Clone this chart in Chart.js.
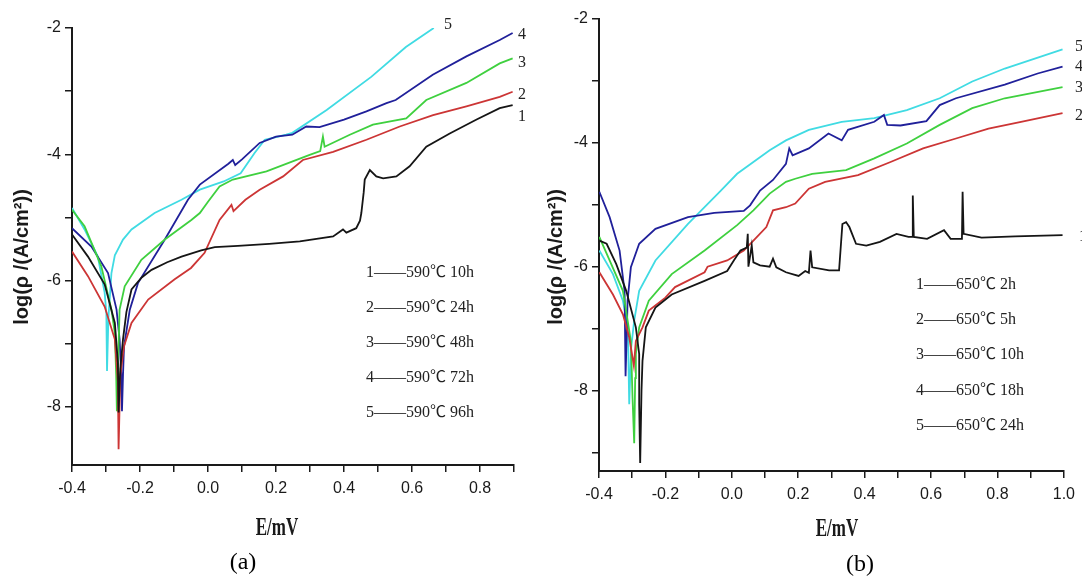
<!DOCTYPE html>
<html lang="en">
<head>
<meta charset="UTF-8">
<title>Polarization curves</title>
<script src="https://cdn.jsdelivr.net/npm/chart.js"></script>
<style>
  body { margin: 0; background: #fff; }
  #wrap { position: relative; width: 1082px; height: 578px; overflow: hidden; }
  canvas { position: absolute; top: 0; }
  #chartA { left: 0; }
  #chartB { left: 541px; }
</style>
</head>
<body>
<div id="wrap">
  <canvas id="chartA" width="541" height="578"></canvas>
  <canvas id="chartB" width="541" height="578"></canvas>
</div>
<script>
// curve colours, 1..5
const colors = ['#151515', '#cc3535', '#3fd03f', '#20209a', '#40dbe3']

// ---- panel (a): 590 C ----
const a1E   = [-0.40,-0.353,-0.304,-0.274,-0.265,-0.263,-0.258,-0.25,-0.24,-0.225,-0.195,-0.166,-0.12,-0.078,-0.02,0.02,0.088,0.18,0.27,0.368,0.397,0.407,0.436,0.447,0.451,0.458,0.461,0.476,0.495,0.515,0.554,0.593,0.642,0.711,0.79,0.858,0.896]
const a1Log = [-5.27,-5.62,-6.06,-6.67,-7.3,-8.09,-7.4,-6.93,-6.5,-6.14,-5.95,-5.83,-5.71,-5.62,-5.52,-5.47,-5.45,-5.42,-5.38,-5.30,-5.19,-5.24,-5.17,-5.05,-4.93,-4.6,-4.40,-4.25,-4.35,-4.38,-4.35,-4.19,-3.88,-3.67,-3.45,-3.27,-3.22]

const a2E   = [-0.40,-0.353,-0.304,-0.274,-0.265,-0.263,-0.258,-0.247,-0.225,-0.176,-0.098,-0.05,-0.01,0.034,0.069,0.075,0.11,0.152,0.221,0.279,0.368,0.466,0.564,0.662,0.76,0.858,0.896]
const a2Log = [-5.54,-5.93,-6.41,-6.93,-7.6,-8.67,-7.5,-7.04,-6.67,-6.30,-5.98,-5.8,-5.56,-5.04,-4.80,-4.9,-4.72,-4.56,-4.35,-4.09,-3.96,-3.77,-3.56,-3.38,-3.24,-3.09,-3.01]

const a3E   = [-0.40,-0.363,-0.314,-0.284,-0.274,-0.27,-0.268,-0.264,-0.26,-0.245,-0.196,-0.127,-0.049,-0.024,0.0,0.034,0.073,0.172,0.299,0.33,0.338,0.343,0.417,0.485,0.583,0.642,0.76,0.858,0.896]
const a3Log = [-4.88,-5.14,-5.77,-6.46,-6.83,-7.5,-8.07,-7.2,-6.46,-6.09,-5.67,-5.35,-5.04,-4.93,-4.75,-4.51,-4.40,-4.27,-4.01,-3.95,-3.72,-3.88,-3.69,-3.53,-3.43,-3.14,-2.87,-2.56,-2.48]

const a4E   = [-0.40,-0.343,-0.294,-0.269,-0.26,-0.255,-0.253,-0.25,-0.247,-0.23,-0.206,-0.127,-0.059,-0.024,0.06,0.073,0.08,0.1,0.152,0.2,0.248,0.289,0.328,0.40,0.466,0.525,0.552,0.661,0.76,0.858,0.896]
const a4Log = [-5.17,-5.46,-5.88,-6.46,-6.93,-7.5,-8.07,-7.5,-7.04,-6.46,-6.04,-5.35,-4.72,-4.48,-4.15,-4.09,-4.17,-4.08,-3.82,-3.72,-3.69,-3.56,-3.57,-3.45,-3.32,-3.19,-3.14,-2.74,-2.45,-2.19,-2.08]

const a5E   = [-0.40,-0.363,-0.324,-0.304,-0.299,-0.297,-0.293,-0.284,-0.274,-0.25,-0.225,-0.157,-0.078,-0.024,0.046,0.096,0.137,0.167,0.23,0.248,0.349,0.481,0.582,0.664]
const a5Log = [-4.85,-5.19,-5.62,-6.19,-6.51,-7.43,-6.6,-5.88,-5.6,-5.35,-5.19,-4.93,-4.72,-4.56,-4.43,-4.30,-3.98,-3.77,-3.69,-3.66,-3.30,-2.77,-2.30,-2.0]

const aNames  = ['1——590℃ 10h', '2——590℃ 24h', '3——590℃ 48h', '4——590℃ 72h', '5——590℃ 96h']
const aTicksX = [-0.4,-0.3,-0.2,-0.1,0,0.1,0.2,0.3,0.4,0.5,0.6,0.7,0.8,0.9]
const aTicksY = [-2,-3,-4,-5,-6,-7,-8]

// ---- panel (b): 650 C ----
const b1E   = [-0.399,-0.377,-0.348,-0.318,-0.289,-0.279,-0.279,-0.276,-0.272,-0.269,-0.259,-0.23,-0.181,-0.082,-0.014,0.006,0.026,0.045,0.048,0.05,0.06,0.065,0.085,0.114,0.124,0.134,0.163,0.201,0.221,0.232,0.237,0.242,0.293,0.323,0.333,0.344,0.354,0.374,0.405,0.446,0.496,0.532,0.543,0.545,0.548,0.588,0.639,0.659,0.693,0.695,0.698,0.752,0.853,0.996]
const b1Log = [-5.58,-5.63,-5.96,-6.39,-6.98,-7.41,-8.22,-9.17,-8.0,-7.52,-6.98,-6.66,-6.45,-6.23,-6.07,-5.90,-5.74,-5.69,-5.47,-6.0,-5.66,-5.93,-5.98,-6.0,-5.87,-6.01,-6.09,-6.15,-6.07,-6.1,-5.74,-6.01,-6.06,-6.06,-5.31,-5.28,-5.36,-5.63,-5.66,-5.60,-5.47,-5.52,-5.52,-4.85,-5.52,-5.55,-5.41,-5.55,-5.55,-4.79,-5.47,-5.53,-5.51,-5.49]

const b2E   = [-0.399,-0.358,-0.328,-0.309,-0.299,-0.295,-0.289,-0.269,-0.25,-0.2,-0.171,-0.082,-0.073,-0.014,0.036,0.065,0.104,0.124,0.163,0.191,0.232,0.281,0.38,0.478,0.576,0.675,0.773,0.871,0.996]
const b2Log = [-6.09,-6.45,-6.77,-7.14,-7.47,-7.6,-7.2,-6.98,-6.71,-6.50,-6.33,-6.09,-6.0,-5.90,-5.74,-5.58,-5.36,-5.09,-5.04,-4.98,-4.74,-4.63,-4.52,-4.31,-4.09,-3.93,-3.77,-3.66,-3.52]

const b3E   = [-0.399,-0.368,-0.328,-0.304,-0.299,-0.294,-0.291,-0.289,-0.279,-0.25,-0.181,-0.082,0.016,0.065,0.114,0.163,0.191,0.242,0.344,0.429,0.527,0.626,0.724,0.822,0.996]
const b3Log = [-5.52,-5.90,-6.39,-7.20,-8.12,-8.85,-7.8,-7.41,-6.98,-6.55,-6.12,-5.74,-5.33,-5.09,-4.82,-4.63,-4.58,-4.50,-4.44,-4.25,-4.01,-3.71,-3.44,-3.28,-3.10]

const b4E   = [-0.399,-0.368,-0.338,-0.323,-0.32,-0.316,-0.314,-0.304,-0.279,-0.23,-0.132,-0.053,0.036,0.055,0.085,0.124,0.163,0.173,0.183,0.232,0.291,0.331,0.35,0.429,0.458,0.468,0.508,0.586,0.626,0.675,0.822,0.921,0.996]
const b4Log = [-4.79,-5.20,-5.74,-6.39,-7.77,-7.0,-6.55,-6.01,-5.63,-5.39,-5.20,-5.13,-5.10,-5.01,-4.77,-4.60,-4.34,-4.09,-4.20,-4.09,-3.85,-3.96,-3.79,-3.66,-3.55,-3.71,-3.72,-3.65,-3.39,-3.28,-3.06,-2.88,-2.77]

const b5E   = [-0.399,-0.358,-0.328,-0.313,-0.309,-0.303,-0.294,-0.279,-0.23,-0.132,-0.033,0.016,0.114,0.163,0.232,0.331,0.429,0.527,0.626,0.724,0.822,0.996]
const b5Log = [-5.74,-6.12,-6.55,-6.98,-8.22,-7.3,-6.87,-6.39,-5.90,-5.31,-4.77,-4.50,-4.12,-3.96,-3.79,-3.66,-3.60,-3.47,-3.28,-3.01,-2.80,-2.49]

const bNames  = ['1——650℃ 2h', '2——650℃ 5h', '3——650℃ 10h', '4——650℃ 18h', '5——650℃ 24h']
const bTicksX = [-0.4,-0.3,-0.2,-0.1,0,0.1,0.2,0.3,0.4,0.5,0.6,0.7,0.8,0.9,1.0]
const bTicksY = [-2,-3,-4,-5,-6,-7,-8,-9]

const yTitle = 'log(ρ /(A/cm²))'
const xTitle = 'E/mV'

// draws titles, legend text and curve numbers
const textPlugin = {
  id: 'texts',
  afterDraw(chart, args, opts) {
    const ctx = chart.ctx
    ctx.save()
    ctx.fillStyle = '#1a1a1a'
    ctx.textBaseline = 'middle'

    // y title, rotated
    ctx.save()
    ctx.translate(opts.yTitle[0], opts.yTitle[1])
    ctx.rotate(-Math.PI / 2)
    ctx.textAlign = 'center'
    ctx.font = 'bold 20px "Liberation Sans", Arial, sans-serif'
    ctx.fillText(yTitle, 0, 0)
    ctx.restore()

    // x title, condensed bold
    ctx.save()
    ctx.translate(opts.xTitle[0], opts.xTitle[1])
    ctx.scale(0.68, 1)
    ctx.textAlign = 'center'
    ctx.font = 'bold 25px "Liberation Serif", serif'
    ctx.fillText(xTitle, 0, 0)
    ctx.restore()

    // panel letter
    ctx.textAlign = 'center'
    ctx.font = '24px "Liberation Serif", serif'
    ctx.fillStyle = '#000'
    ctx.fillText(opts.letter, opts.letterPos[0], opts.letterPos[1])

    // legend list
    ctx.textAlign = 'left'
    ctx.font = '16px "Liberation Serif", "Noto Sans CJK SC", serif'
    ctx.fillStyle = '#222'
    opts.names.forEach((n, i) => ctx.fillText(n, opts.legendX, opts.legendY[i]))

    // curve numbers at the right ends
    opts.tags.forEach((t, i) => ctx.fillText(String(i + 1), t[0], t[1]))
    ctx.restore()
  }
}

function makeChart(id, cfg) {
  const datasets = cfg.series.map((s, i) => ({
    label: cfg.names[i],
    data: s[0].map((e, k) => ({ x: e, y: s[1][k] })),
    borderColor: colors[i],
    borderWidth: 1.8,
    pointRadius: 0,
    tension: 0,
    fill: false
  }))

  const axisGrid = { display: true, drawOnChartArea: false, drawTicks: true, tickLength: 7, color: '#1a1a1a', lineWidth: 1.5 }
  const axisBorder = { display: true, color: '#1a1a1a', width: 2 }
  const tickFont = { family: '"Liberation Sans", Arial, sans-serif', size: 16 }

  return new Chart(document.getElementById(id), {
    type: 'line',
    data: { datasets },
    plugins: [textPlugin],
    options: {
      responsive: false,
      animation: false,
      events: [],
      layout: { autoPadding: false, padding: cfg.padding },
      plugins: {
        legend: { display: false },
        tooltip: { enabled: false },
        texts: cfg.texts
      },
      scales: {
        x: {
          type: 'linear',
          min: cfg.xTicks[0],
          max: cfg.xTicks[cfg.xTicks.length - 1],
          afterBuildTicks: sc => { sc.ticks = cfg.xTicks.map(v => ({ value: v })) },
          afterFit: sc => { sc.height = 30 },
          grid: axisGrid,
          border: axisBorder,
          ticks: {
            autoSkip: false, maxRotation: 0, padding: 7, color: '#1a1a1a', font: tickFont,
            callback: v => Math.round(v * 10) % 2 === 0 ? v.toFixed(1) : ''
          }
        },
        y: {
          type: 'linear',
          min: cfg.yMin,
          max: -2,
          afterBuildTicks: sc => { sc.ticks = cfg.yTicks.map(v => ({ value: v })) },
          afterFit: sc => { sc.width = cfg.yWidth },
          grid: axisGrid,
          border: axisBorder,
          ticks: {
            autoSkip: false, padding: 4, color: '#1a1a1a', font: tickFont,
            callback: v => v % 2 === 0 ? String(v) : ''
          }
        }
      }
    }
  })
}

makeChart('chartA', {
  series: [[a1E, a1Log], [a2E, a2Log], [a3E, a3Log], [a4E, a4Log], [a5E, a5Log]],
  names: aNames,
  xTicks: aTicksX,
  yTicks: aTicksY,
  yMin: -8.92,
  yWidth: 72,
  padding: { left: 0, top: 28, right: 27, bottom: 83 },
  texts: {
    yTitle: [22, 257],
    xTitle: [277, 529],
    letter: '(a)', letterPos: [243, 563],
    names: aNames, legendX: 366, legendY: [273, 308, 343, 378, 413],
    tags: [[518, 117], [518, 95], [518, 63], [518, 35], [444, 25]]
  }
})

makeChart('chartB', {
  series: [[b1E, b1Log], [b2E, b2Log], [b3E, b3Log], [b4E, b4Log], [b5E, b5Log]],
  names: bNames,
  xTicks: bTicksX,
  yTicks: bTicksY,
  yMin: -9.3,
  yWidth: 58,
  padding: { left: 0, top: 19, right: 9, bottom: 77 },
  texts: {
    yTitle: [15, 257],
    xTitle: [296, 530],
    letter: '(b)', letterPos: [319, 565],
    names: bNames, legendX: 375, legendY: [285, 320, 355, 391, 426],
    tags: [[538, 237], [534, 116], [534, 88], [534, 67], [534, 47]]
  }
})
</script>
</body>
</html>
